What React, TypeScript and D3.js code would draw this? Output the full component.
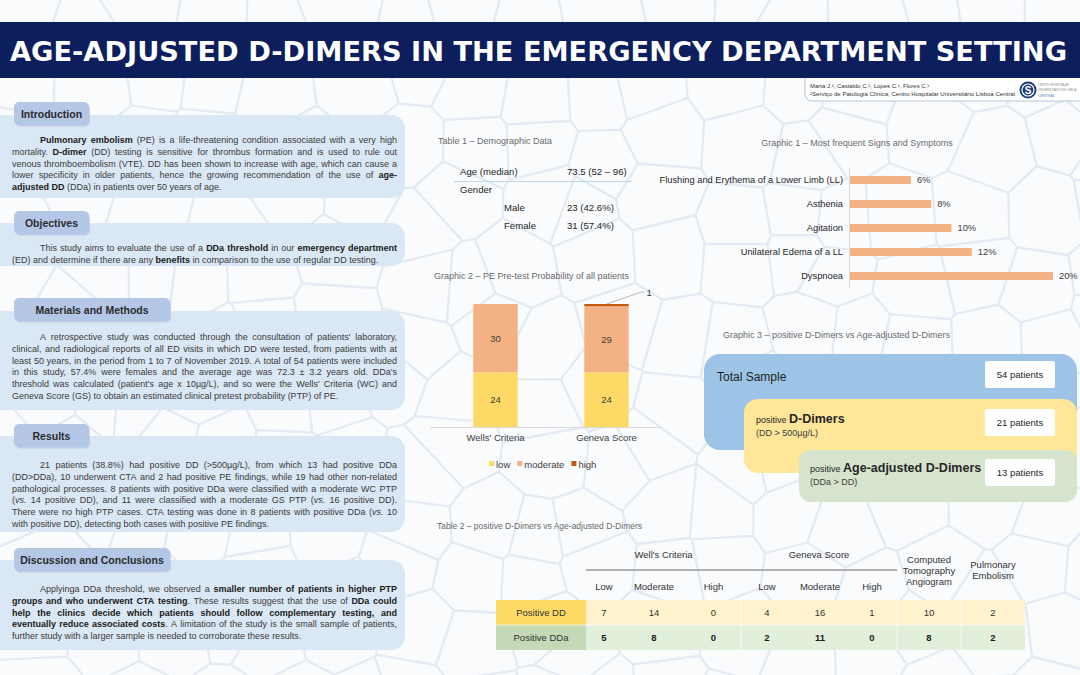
import React from 'react'
import * as d3 from 'd3'

const W = 1080
const H = 675
const SANS = "'Liberation Sans', Arial, sans-serif"
const NARROW = "'Liberation Sans Narrow', 'Arial Narrow', 'Liberation Sans', sans-serif"

// ---- poster text ----
const introLines = [
  '**Pulmonary embolism** (PE) is a life-threatening condition associated with a very high',
  'mortality. **D-dimer** (DD) testing is sensitive for thrombus formation and is used to rule out',
  'venous thromboembolism (VTE). DD has been shown to increase with age, which can cause a',
  'lower specificity in older patients, hence the growing recommendation of the use of **age-**',
  '**adjusted DD** (DDa) in patients over 50 years of age.',
]
const objectiveLines = [
  'This study aims to evaluate the use of a **DDa threshold** in our **emergency department**',
  '(ED) and determine if there are any **benefits** in comparison to the use of regular DD testing.',
]
const methodLines = [
  "A retrospective study was conducted through the consultation of patients' laboratory,",
  'clinical, and radiological reports of all ED visits in which DD were tested, from patients with at',
  'least 50 years, in the period from 1 to 7 of November 2019. A total of 54 patients were included',
  "in this study, 57.4% were females and the average age was 72.3 ± 3.2 years old. DDa's",
  "threshold was calculated (patient's age x 10µg/L), and so were the Wells' Criteria (WC) and",
  'Geneva Score (GS) to obtain an estimated clinical pretest probability (PTP) of PE.',
]
const resultLines = [
  '21 patients (38.8%) had positive DD (>500µg/L), from which 13 had positive DDa',
  '(DD>DDa), 10 underwent CTA and 2 had positive PE findings, while 19 had other non-related',
  'pathological processes. 8 patients with positive DDa were classified with a moderate WC PTP',
  '(_vs._ 14 positive DD), and 11 were classified with a moderate GS PTP (_vs._ 16 positive DD).',
  'There were no high PTP cases. CTA testing was done in 8 patients with positive DDa (_vs._ 10',
  'with positive DD), detecting both cases with positive PE findings.',
]
const discussionLines = [
  'Applyinga DDa threshold, we observed a **smaller number of patients in higher PTP**',
  '**groups and who underwent CTA testing**. These results suggest that the use of **DDa could**',
  '**help the clinics decide which patients should follow complementary testing, and**',
  '**eventually reduce associated costs**. A limitation of the study is the small sample of patients,',
  'further study with a larger sample is needed to corroborate these results.',
]

// ---- table 1 ----
const demoLabels = ['Age (median)', 'Gender', 'Male', 'Female']
const demoValues = ['73.5 (52 – 96)', '', '23 (42.6%)', '31 (57.4%)']

// ---- graphic 1 ----
const symptoms = ['Flushing and Erythema of a Lower Limb (LL)', 'Asthenia', 'Agitation', 'Unilateral Edema of a LL', 'Dyspnoea']
const symptomPct = [6, 8, 10, 12, 20]

// ---- graphic 2 ----
const ptpGroups = ["Wells' Criteria", 'Geneva Score']
const ptpKeys = ['low', 'moderate', 'high']
const ptpLow = [24, 24]
const ptpModerate = [30, 29]
const ptpHigh = [0, 1]
const ptpColors = ['#ffd966', '#f4b183', '#c55a11']

// ---- graphic 3 ----
const funnelCounts = [54, 21, 13]

// ---- table 2 ----
const t2Groups = ["Well's Criteria", 'Geneva Score']
const t2Sub = ['Low', 'Moderate', 'High', 'Low', 'Moderate', 'High']
const t2Rows = ['Positive DD', 'Positive DDa']
const t2DD = [7, 14, 0, 4, 16, 1, 10, 2]
const t2DDa = [5, 8, 0, 2, 11, 0, 8, 2]

type Run = { t: string; b: boolean; i: boolean }

let ctx: CanvasRenderingContext2D | null = null
function measure(t: string, size: number, b: boolean, i: boolean) {
  if (!ctx) ctx = document.createElement('canvas').getContext('2d')
  ctx!.font = `${i ? 'italic ' : ''}${b ? 'bold ' : ''}${size}px ${SANS}`
  return ctx!.measureText(t).width
}

function parseLine(line: string): Run[][] {
  const runs: Run[] = []
  line.split(/(\*\*[^*]+\*\*|_[^_]+_)/).forEach(p => {
    if (!p) return
    if (p.startsWith('**')) runs.push({ t: p.slice(2, -2), b: true, i: false })
    else if (p.length > 1 && p.startsWith('_') && p.endsWith('_')) runs.push({ t: p.slice(1, -1), b: false, i: true })
    else runs.push({ t: p, b: false, i: false })
  })
  const words: Run[][] = []
  let cur: Run[] = []
  runs.forEach(r => {
    r.t.split(/( +)/).forEach(part => {
      if (!part) return
      if (/^ +$/.test(part)) {
        if (cur.length) { words.push(cur); cur = [] }
      } else cur.push({ ...r, t: part })
    })
  })
  if (cur.length) words.push(cur)
  return words
}

function Para({ lines, y, x0 = 12, x1 = 397, indent = 28, lh = 11.8, size = 9 }:
  { lines: string[]; y: number; x0?: number; x1?: number; indent?: number; lh?: number; size?: number }) {
  return (
    <g fontFamily={SANS} fontSize={size} fill="#3a3a3a">
      {lines.map((line, li) => {
        const words = parseLine(line)
        const start = x0 + (li === 0 ? indent : 0)
        const widths = words.map(w => d3.sum(w, p => measure(p.t, size, p.b, p.i)))
        const last = li === lines.length - 1
        const gap = last || words.length < 2
          ? measure(' ', size, false, false)
          : (x1 - start - d3.sum(widths)) / (words.length - 1)
        let x = start
        return words.map((w, wi) => {
          const el = (
            <text key={`${li}-${wi}`} x={x} y={y + li * lh}>
              {w.map((p, pi) => (
                <tspan key={pi} fontWeight={p.b ? 'bold' : 'normal'} fontStyle={p.i ? 'italic' : 'normal'}
                  fill={p.b ? '#1a1a1a' : undefined}>{p.t}</tspan>
              ))}
            </text>
          )
          x += widths[wi] + gap
          return el
        })
      })}
    </g>
  )
}

function Section({ title, y, labelW, panelTop, panelBottom, lines, textY }:
  { title: string; y: number; labelW: number; panelTop: number; panelBottom: number; lines: string[]; textY: number }) {
  return (
    <g>
      <rect x={-14} y={panelTop} width={419} height={panelBottom - panelTop} rx={14} fill="#dae7f4" />
      <rect x={15} y={y + 1.5} width={labelW} height={23} rx={5} fill="#9fb3d3" opacity={0.5} />
      <rect x={14} y={y} width={labelW} height={23} rx={5} fill="#b4c7e7" />
      <text x={14 + labelW / 2} y={y + 15.5} textAnchor="middle" fontFamily={SANS} fontSize={10.5}
        fontWeight="bold" fill="#2b2b2b">{title}</text>
      <Para lines={lines} y={textY} />
    </g>
  )
}

function Background() {
  const pts: [number, number][] = []
  for (let i = 0; i < 18; i++) {
    for (let j = 0; j < 12; j++) {
      const jx = Math.sin(i * 12.9898 + j * 78.233) * 43758.5453
      const jy = Math.sin(i * 39.3468 + j * 11.135) * 24634.6345
      pts.push([i * 64 + (jx - Math.floor(jx)) * 48, j * 62 + (jy - Math.floor(jy)) * 44])
    }
  }
  const vor = d3.Delaunay.from(pts).voronoi([-20, -20, W + 20, H + 20])
  return (
    <g>
      <rect width={W} height={H} fill="#f9fbfd" />
      <path d={vor.render()} fill="none" stroke="#dde6f0" strokeWidth={2.2} opacity={0.8} />
    </g>
  )
}

function Graphic1() {
  const x = d3.scaleLinear().domain([0, 20]).range([850, 1053])
  const y = d3.scaleBand().domain(symptoms).range([168, 288]).paddingInner(2 / 3).paddingOuter(1 / 3)
  return (
    <g fontFamily={SANS}>
      <text x={857} y={146} textAnchor="middle" fontSize={9} fill="#6b6b6b">Graphic 1 – Most frequent Signs and Symptoms</text>
      <line x1={x(0) - 0.5} x2={x(0) - 0.5} y1={168} y2={288} stroke="#d9d9d9" />
      {symptoms.map((s, i) => (
        <g key={s}>
          <rect x={x(0)} y={y(s)} width={x(symptomPct[i]) - x(0)} height={y.bandwidth()} fill="#f4b183" />
          <text x={843} y={y(s)! + y.bandwidth() / 2 + 3.3} textAnchor="end" fontSize={9.3} fill="#1f1f1f">{s}</text>
          <text x={x(symptomPct[i]) + 6} y={y(s)! + y.bandwidth() / 2 + 3.3} fontSize={9.3} fill="#404040">{symptomPct[i]}%</text>
        </g>
      ))}
    </g>
  )
}

function Graphic2() {
  const rows = ptpGroups.map((g, i) => ({ group: g, low: ptpLow[i], moderate: ptpModerate[i], high: ptpHigh[i] }))
  const stack = d3.stack<any>().keys(ptpKeys)(rows)
  const x = d3.scaleBand().domain(ptpGroups).range([440, 662]).paddingInner(0.6).paddingOuter(0.3)
  const y = d3.scaleLinear().domain([0, 54]).range([427, 304])
  const color = d3.scaleOrdinal<string>().domain(ptpKeys).range(ptpColors)
  const legendSize = 9.5
  const legendX: number[] = []
  let lx = 489
  ptpKeys.forEach(k => { legendX.push(lx); lx += 7 + measure(k, legendSize, false, false) + 7 })
  const gx = x('Geneva Score')! + x.bandwidth() / 2
  const hiTop = y(stack[2][1][1])
  return (
    <g fontFamily={SANS}>
      <text x={434} y={279} fontSize={9} fill="#6b6b6b">Graphic 2 – PE Pre-test Probability of all patients</text>
      {stack.map(layer => layer.map((d, i) => (
        <g key={layer.key + i}>
          <rect x={x(ptpGroups[i])} y={y(d[1])} width={x.bandwidth()} height={y(d[0]) - y(d[1])} fill={color(layer.key)} />
          {d[1] - d[0] > 2 && (
            <text x={x(ptpGroups[i])! + x.bandwidth() / 2} y={(y(d[0]) + y(d[1])) / 2 + 3.5} textAnchor="middle"
              fontSize={9.5} fill="#404040">{d[1] - d[0]}</text>
          )}
        </g>
      )))}
      <polyline points={`${gx},${hiTop} ${gx + 35},${hiTop - 12} ${gx + 38},${hiTop - 12}`} fill="none" stroke="#a6a6a6" strokeWidth={0.8} />
      <text x={gx + 40} y={hiTop - 8.5} fontSize={9.5} fill="#404040">{ptpHigh[1]}</text>
      <line x1={430} x2={660} y1={y(0) + 0.5} y2={y(0) + 0.5} stroke="#d9d9d9" />
      {ptpGroups.map(g => (
        <text key={g} x={x(g)! + x.bandwidth() / 2} y={441} textAnchor="middle" fontSize={9.5} fill="#404040">{g}</text>
      ))}
      {ptpKeys.map((k, i) => (
        <g key={k}>
          <rect x={legendX[i]} y={461} width={5} height={5} fill={color(k)} />
          <text x={legendX[i] + 7} y={467.5} fontSize={legendSize} fill="#404040">{k}</text>
        </g>
      ))}
    </g>
  )
}

function Graphic3() {
  return (
    <g fontFamily={SANS}>
      <text x={723} y={338} fontSize={9} fill="#6b6b6b">Graphic 3 – positive D-Dimers vs Age-adjusted D-Dimers</text>
      <rect x={704} y={354} width={373} height={96} rx={16} fill="#9dc3e6" />
      <text x={717} y={381} fontSize={12} fill="#1f1f1f">Total Sample</text>
      <rect x={744} y={399} width={333} height={74} rx={14} fill="#ffe699" />
      <text x={756} y={423} fill="#262626"><tspan fontSize={9}>positive </tspan><tspan fontSize={12.5} fontWeight="bold">D-Dimers</tspan></text>
      <text x={756} y={436} fontSize={9} fill="#404040">(DD &gt; 500µg/L)</text>
      <rect x={799} y={450} width={278} height={52} rx={12} fill="#d6e4cd" />
      <text x={810} y={472} fill="#262626"><tspan fontSize={9}>positive </tspan><tspan fontSize={12.5} fontWeight="bold">Age-adjusted D-Dimers</tspan></text>
      <text x={810} y={485} fontSize={9} fill="#404040">(DDa &gt; DD)</text>
      {funnelCounts.map((c, i) => {
        const top = [361, 409, 459][i]
        return (
          <g key={i}>
            <rect x={985} y={top} width={70} height={27} rx={2} fill="#ffffff" />
            <text x={1020} y={top + 17} textAnchor="middle" fontSize={9.5} fill="#262626">{c} patients</text>
          </g>
        )
      })}
    </g>
  )
}

function Table1() {
  const rowY = [175, 193, 211, 229]
  return (
    <g fontFamily={SANS} fontSize={9.6} fill="#262626">
      <text x={438} y={144} fontSize={9} fill="#6b6b6b">Table 1 – Demographic Data</text>
      {demoLabels.map((l, i) => (
        <g key={l}>
          <text x={i >= 2 ? 504 : 460} y={rowY[i]}>{l}</text>
          {demoValues[i] && <text x={567} y={rowY[i]}>{demoValues[i]}</text>}
        </g>
      ))}
      <line x1={454} x2={632} y1={181.5} y2={181.5} stroke="#bdd7ee" />
    </g>
  )
}

function Table2() {
  // column widths (label column, then 8 value columns)
  const colW = [90, 36, 64, 55, 52, 54, 50, 64, 64]
  const edges = d3.cumsum([0, ...colW])
  const ex = d3.scaleLinear().domain([0, edges[edges.length - 1]]).range([496, 1025])
  const cx = (i: number) => (ex(edges[i + 1]) + ex(edges[i + 2])) / 2
  const rowsData = [t2DD, t2DDa]
  const rowTop = [600, 625]
  const rowFill = [['#ffd966', '#fff2cc'], ['#c5d9b6', '#e2efda']]
  return (
    <g fontFamily={NARROW} fill="#333">
      <text x={437} y={529} fontSize={8.5} fill="#6b6b6b">Table 2 – positive D-Dimers vs Age-adjusted D-Dimers</text>
      {t2Groups.map((g, i) => (
        <text key={g} x={(ex(edges[1 + i * 3]) + ex(edges[4 + i * 3])) / 2} y={558} textAnchor="middle" fontSize={9.5}>{g}</text>
      ))}
      <line x1={ex(edges[1])} x2={ex(edges[7])} y1={570} y2={570} stroke="#9a9a9a" strokeWidth={1.6} />
      {['Computed', 'Tomography', 'Angiogram'].map((t, i) => (
        <text key={t} x={cx(6)} y={563 + i * 11} textAnchor="middle" fontSize={9.5}>{t}</text>
      ))}
      {['Pulmonary', 'Embolism'].map((t, i) => (
        <text key={t} x={cx(7)} y={568 + i * 11} textAnchor="middle" fontSize={9.5}>{t}</text>
      ))}
      {t2Sub.map((s, i) => (
        <text key={i} x={cx(i)} y={590} textAnchor="middle" fontSize={9.5}>{s}</text>
      ))}
      {t2Rows.map((r, ri) => (
        <g key={r}>
          <rect x={ex(edges[0])} y={rowTop[ri]} width={ex(edges[1]) - ex(edges[0])} height={25} fill={rowFill[ri][0]} />
          <rect x={ex(edges[1])} y={rowTop[ri]} width={ex(edges[9]) - ex(edges[1])} height={25} fill={rowFill[ri][1]} />
          <text x={(ex(edges[0]) + ex(edges[1])) / 2} y={rowTop[ri] + 16} textAnchor="middle" fontSize={9.5}>{r}</text>
          {rowsData[ri].map((v, i) => (
            <text key={i} x={cx(i)} y={rowTop[ri] + 16} textAnchor="middle" fontSize={9.5}
              fontWeight={ri === 1 ? 'bold' : 'normal'} fill={ri === 1 ? '#1a1a1a' : '#333'}>{v}</text>
          ))}
        </g>
      ))}
      {[4, 7, 8].map(i => (
        <line key={i} x1={ex(edges[i])} x2={ex(edges[i])} y1={600} y2={650} stroke="#ffffff" strokeWidth={1} opacity={0.8} />
      ))}
      <line x1={ex(edges[0])} x2={ex(edges[9])} y1={625} y2={625} stroke="#ffffff" strokeWidth={0.8} opacity={0.8} />
    </g>
  )
}

function Header() {
  return (
    <g>
      <rect x={805} y={66} width={290} height={35} rx={7} fill="#ffffff" stroke="#aab6ca" strokeWidth={0.8} />
      <rect x={0} y={22} width={W} height={56} fill="#0c1f5c" />
      <text x={10} y={61} fontFamily="'DejaVu Sans', Verdana, sans-serif" fontWeight="bold" fontSize={27}
        fill="#ffffff" textLength={1057} lengthAdjust="spacingAndGlyphs">AGE-ADJUSTED D-DIMERS IN THE EMERGENCY DEPARTMENT SETTING</text>
      <g fontFamily={NARROW} fill="#333">
        <text x={810} y={87.5} fontSize={6}>Marta J.¹, Castaldo C.¹, Lopes C.¹, Flores C.¹</text>
        <text x={810} y={96} fontSize={6} textLength={205} lengthAdjust="spacingAndGlyphs">¹Serviço de Patologia Clínica, Centro Hospitalar Universitário Lisboa Central</text>
      </g>
      <circle cx={1028} cy={90} r={8.5} fill="#1d3b7c" />
      <circle cx={1028} cy={90} r={6} fill="none" stroke="#ffffff" strokeWidth={1.2} />
      <text x={1028} y={94} textAnchor="middle" fontFamily={SANS} fontWeight="bold" fontSize={10} fill="#ffffff">S</text>
      <g fontFamily={SANS} fontSize={2.9} fill="#8a8a8a">
        <text x={1038} y={86}>CENTRO HOSPITALAR</text>
        <text x={1038} y={91}>UNIVERSITÁRIO DE LISBOA</text>
        <text x={1038} y={97} fontSize={3.6} fill="#4d7fc4">CENTRAL</text>
      </g>
    </g>
  )
}

export default function App() {
  return (
    <svg width={W} height={H} viewBox={`0 0 ${W} ${H}`}
      style={{ position: 'absolute', left: 0, top: 0, display: 'block' }}>
      <Background />
      <Header />
      <Section title="Introduction" y={102} labelW={75} panelTop={115} panelBottom={198} lines={introLines} textY={143} />
      <Section title="Objectives" y={211} labelW={75} panelTop={223} panelBottom={266} lines={objectiveLines} textY={251} />
      <Section title="Materials and Methods" y={298} labelW={156} panelTop={311} panelBottom={410} lines={methodLines} textY={340} />
      <Section title="Results" y={424} labelW={75} panelTop={436} panelBottom={532} lines={resultLines} textY={468} />
      <Section title="Discussion and Conclusions" y={548} labelW={156} panelTop={560} panelBottom={650} lines={discussionLines} textY={592} />
      <Table1 />
      <Graphic1 />
      <Graphic2 />
      <Graphic3 />
      <Table2 />
    </svg>
  )
}
